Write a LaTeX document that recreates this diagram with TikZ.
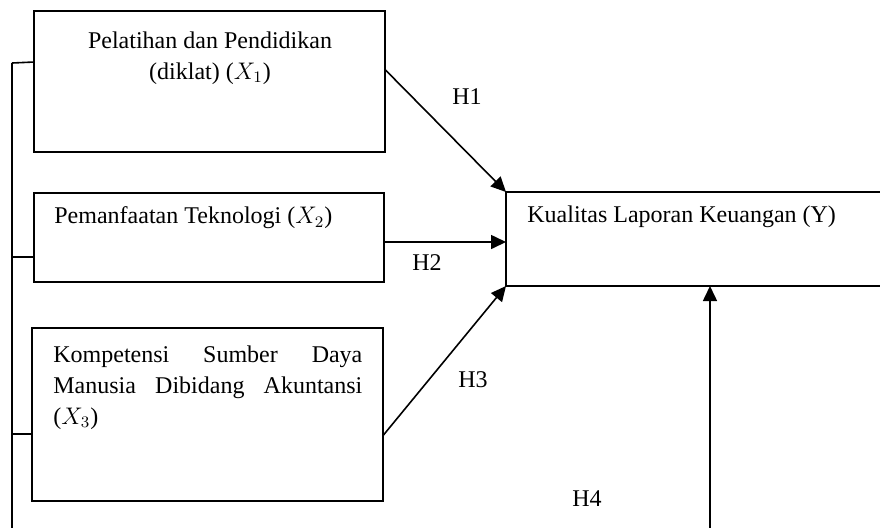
\documentclass[tikz,border=0pt]{standalone}
\usepackage{fontspec}
\setmainfont{Liberation Serif}
\usetikzlibrary{arrows.meta}
\begin{document}
\begin{tikzpicture}[x=0.5pt,y=-0.5pt,
  box/.style={draw,line width=0.8pt,inner sep=0pt,outer sep=0pt,anchor=north west},
  txt/.style={inner sep=0pt,font=\fontsize{12}{15.5}\selectfont},
  conn/.style={line width=0.8pt},
  arr/.style={line width=0.8pt,-{Triangle[length=7.5pt,width=7pt]}}]
\useasboundingbox (0,0) rectangle (880,527);
% boxes
\node[box,minimum width=175.5pt,minimum height=70.5pt] (b1) at (34,11) {};
\node[box,minimum width=175pt,minimum height=44.5pt] (b2) at (34,193) {};
\node[box,minimum width=175.5pt,minimum height=86.5pt] (b3) at (32,328) {};
\node[box,minimum width=200pt,minimum height=47pt] (by) at (506,192) {};
% texts
\node[txt,align=center] (t1) at (210,58) {Pelatihan dan Pendidikan\\(diklat) ($X_1$)};
\node[txt,anchor=west] (t2) at (54,218) {Pemanfaatan Teknologi ($X_2$)};
\node[txt,anchor=north west,text width=154.5pt,align=justify] (t3) at (53,345)
  {Kompetensi Sumber Daya Manusia Dibidang Akuntansi ($X_3$)};
\node[txt,anchor=west] (ty) at (527,217) {Kualitas Laporan Keuangan (Y)};
% labels
\node[txt] (h1) at (467,97) {H1};
\node[txt] (h2) at (427,263) {H2};
\node[txt] (h3) at (473,380) {H3};
\node[txt] (h4) at (587,499) {H4};
% bus coordinates
\coordinate (bt) at (12,63);
\coordinate (bb) at (12,530);
\coordinate (c1) at (12,63);
\coordinate (c2) at (12,257);
\coordinate (c3) at (12,434);
\coordinate (b1c) at (34,62);
\coordinate (b2c) at (34,257);
\coordinate (b3c) at (32,434);
\draw[conn] (bt) -- (bb);
\draw[conn] (c1) -- (b1c);
\draw[conn] (c2) -- (b2c);
\draw[conn] (c3) -- (b3c);
% arrows
\coordinate (s1) at (385.5,70);
\coordinate (s2) at (384.5,242);
\coordinate (e2) at (506,242);
\coordinate (s3) at (383.5,435);
\coordinate (s4) at (710,530);
\coordinate (e4) at (710,286);
\draw[arr] (s1) -- (by.north west);
\draw[arr] (s2) -- (e2);
\draw[arr] (s3) -- (by.south west);
\draw[arr] (s4) -- (e4);
\end{tikzpicture}
\end{document}
